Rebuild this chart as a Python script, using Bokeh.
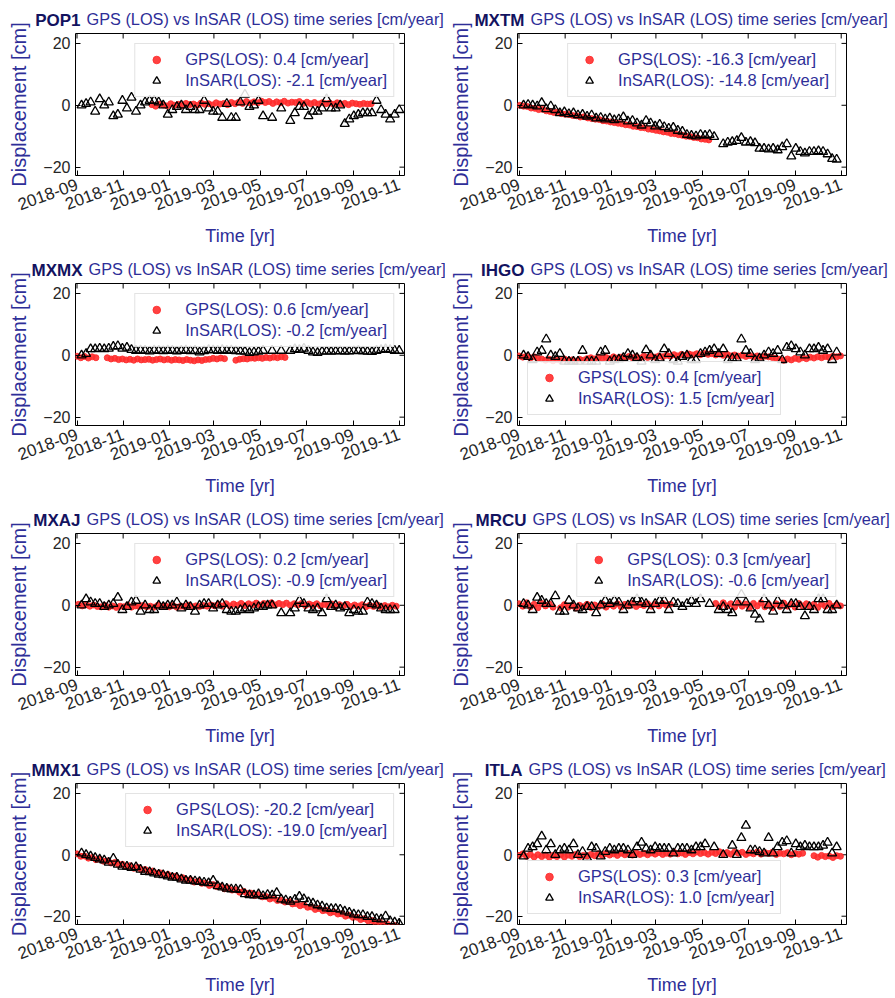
from datetime import datetime, timedelta
from bokeh.plotting import figure
from bokeh.layouts import column, row
from bokeh.models import (FixedTicker, DatetimeTickFormatter, Title, Range1d, Legend, LegendItem)
from bokeh.embed import file_html
from bokeh.resources import INLINE

# ---------------- data ----------------
STATIONS = ["POP1", "MXTM", "MXMX", "IHGO", "MXAJ", "MRCU", "MMX1", "ITLA"]
GPS_RATES = [0.4, -16.3, 0.6, 0.4, 0.2, 0.3, -20.2, 0.3]
INSAR_RATES = [-2.1, -14.8, -0.2, 1.5, -0.9, -0.6, -19.0, 1.0]
TITLE_REST = "GPS (LOS) vs InSAR (LOS) time series [cm/year]"
X_TICKS = ["2018-09-01", "2018-11-01", "2019-01-01", "2019-03-01",
           "2019-05-01", "2019-07-01", "2019-09-01", "2019-11-01"]
Y_TICKS = [-20, 0, 20]

INSAR_START = "2018-09-07"
INSAR_STEP_DAYS = 6
GPS_STEP_DAYS = 5
GPS_START = ["2018-12-09", "2018-09-02", "2018-09-01", "2018-09-01",
             "2018-09-03", "2018-09-01", "2018-09-01", "2018-09-01"]

POP1_INSAR = [0, 0.5, 1, -2, 2, 0, 1, -3.5, -3, 1.5, -1, 2.5, -2, 0, 1, 1.5, 1.5, 1, 0, -3,
              -1.5, -0.5, 0, -1.5, -0.5, -1.5, -1.5, 1.5, -1, -2, -2, -4, 0.5, -4, -4, 1, 3.5,
              -0.5, 0, 1.5, -3.5, None, -4, None, -1, None, -5, -2.5, -0.5, -0.5, -3.5, -2, -2,
              -1, 2, -1, -1, 0, -6, -4.5, -3.5, -3, -2.5, -2.5, -2.5, 1.5, -1.5, -3, -4.5, -3, -1.5]
POP1_GPS = [0.2, -0.3, 0.4, 0.1, -0.2, 0.5, 0.0, 0.3, -0.1, 0.6, 0.2, 0.4, 0.0, 0.7, 0.3, 0.5,
            0.1, 0.8, 0.4, 0.6, 0.2, 0.9, 0.5, 1.0, 0.6, 1.2, 0.7, 1.1, 0.8, 1.3, 0.9, 1.2, 0.6,
            1.1, 0.8, 1.3, 0.7, 1.0, 0.9, 1.2, 0.6, 1.0, 0.5, 0.9, 0.4, 0.8, 0.5, 0.7, 0.3, 0.8,
            0.4, 0.6, 0.2, 0.7, 0.5, 0.3, 0.6, 0.4, 0.5]

MXTM_INSAR = [0, 0.2, 0, -0.3, 0.8, -1.2, -0.3, -1.5, -2.5, -2.2, -2.8, -2.5, -3.2, -3.0, -3.6,
              -3.2, -4.2, -4.0, -4.5, -4.2, -4.8, -4.5, -3.8, -5.2, -5.0, -5.8, -6.5, -5.0, -5.8,
              -6.8, -6.2, -7.0, -7.5, -7.2, -8.2, -8.5, -9.5, -9.8, -10.0, -9.5, -9.8, -9.5,
              -10.2, None, -12.5, -12, -11.8, -11.5, -10.5, -12, -11.8, -12.2, -14, -14, -14.2,
              -14, -14.5, -13.5, -12.5, -16.5, -14, -15, -15.5, -15, -15, -14.8, -15, -15.8,
              -17.3, -17.5]
MXTM_GPS = [0, -0.3, -0.4, -0.9, -1.0, -1.4, -1.3, -1.8, -2.0, -2.3, -2.2, -2.7, -2.9, -3.0,
            -3.3, -3.4, -3.8, -3.7, -4.1, -4.3, -4.5, -4.6, -5.0, -5.1, -5.4, -5.6, -5.8, -6.0,
            -6.3, -6.4, -6.8, -6.9, -7.2, -7.3, -7.7, -7.8, -8.1, -8.3, -8.6, -8.7, -9.1, -9.2,
            -9.5, -9.7, -10.0, -10.1, -10.4, -10.5, -10.9, -11.0, -11.2]

MXMX_INSAR = [0, 0.5, 2, 2, 2.2, 2, 2.2, 2.8, 3, 2.2, 2.5, 1.8, 1.5, 1.6, 1.5, 1.3, 1.6, 1.5,
              1.4, 1.6, 1.5, 1.3, 1.5, 1.6, 1.4, 1.5, 1.0, 1.4, 1.8, 1.6, 1.5, 1.8, 1.5, 1.6,
              1.4, 1.3, 1.2, 0.8, 1.0, 1.2, 1.5, None, 1.5, None, 1.5, None, 1.5, 2.0, 1.8,
              2.2, 1.5, 1.0, 0.8, 1.2, 1.3, 1.2, 1.3, 1.4, 1.2, 1.3, 1.4, 1.5, 1.3, 1.2, 1.1,
              1.5, 1.8, 2.0, 1.8, 1.5, 1.5]
MXMX_GPS = [-0.3, -0.8, -0.4, -0.9, -0.5, -0.8, None, None,
            -0.8, -1.2, -1.0, -1.4, -1.2, -1.5, -1.3, -1.6, -1.2, -1.5, -1.4, -1.3, -1.6, -1.4,
            -1.2, -1.5, -1.3, -1.6, -1.4, -1.5, -1.7, -1.4, -1.6, -1.8, -1.5, -1.7, -1.4, -1.3,
            -1.0, -1.2, -0.9, -1.1, None, None,
            -1.6, -1.3, -1.1, -1.2, -0.9, -1.0, -0.8, -1.0, -0.7, -0.9, -0.6, -0.8, -0.5, -0.7]

IHGO_INSAR = [0, -0.5, -1.5, 1, 1.5, 5.2, 0, -0.5, 0.5, -2, -2, -2, -2, 1.5, -2, -2, -2, 1, 1.5,
              -2, -1.5, -1.3, -0.8, 0.5, 0, -0.8, -2, 1.7, 0, -1.5, -1, 2, 0.5, -1.5, -2, -0.5,
              0, -1.5, -1.5, 0.5, 1, 1.5, 2, 0.5, 2, -1.5, -1, -1, 5.2, 1.5, 0.5, -1.5, -1, 0,
              1, 0.5, 1.5, -1.5, 2.5, 3, 2, 1, 0, 2, 2, 2.5, 1.5, 2, -1.5, 1]
IHGO_GPS = [-0.2, -0.6, -0.3, -0.9, -0.5, -1.0,
            -1.2, -1.6, -1.3, -1.8, -1.4, -1.7, -1.2, -1.6, -1.5, -1.9, -1.3, -1.6, -1.1,
            -0.8, -1.2, -0.6, -1.0, -0.7, -1.1, -0.5, -0.9, -0.6, -1.0, -0.4, -0.8, -0.5, -0.9,
            -0.3, -0.7, -0.4, -0.6, -0.2, -0.5, 0.0, -0.3, 0.2, -0.2, 0.3, 0.0, 0.4, 0.1, 0.5,
            0.2, 0.6, 0.3, 0.5, 0.1, 0.4, 0.0, 0.3, -0.2, 0.1, -0.3, 0.0, -0.4, -0.1, -0.5,
            -0.2, -0.6, -0.3, -0.5,
            -0.7, -1.0, -1.3, -1.6, -1.2, -1.5, -1.0, -1.3, -0.8, -1.1, -0.6,
            -0.9, -0.5, -0.8, -0.4, -0.7, -0.3, -0.5, -0.2]

MXAJ_INSAR = [0, 2, 1, 0.5, 0.5, -0.5, 0, 0.5, 2.5, -1.5, -0.5, 1, 1.5, -2, 0, -1.5, -1.5, 0,
              -0.5, 0, 0, 1, -1, 0, -0.5, -2, 0, 0.5, 0.5, -1, 0, 0.5, -1.5, -2, -2, -1.5, -1,
              -1.5, -1, -0.5, -0.5, 0, 0, None, -2.5, None, -2.5, -1, 1.5, 0.5, -1, -1.5, -1,
              -2.5, 2, -0.5, 0, -1, -0.5, -2.5, -1.5, -2, -2, 1, 0.5, 0, -1, -1.5, -1.5, -1.5]
MXAJ_GPS = [0.3, -0.2, 0.2, -0.3, 0.1, -0.4,
            -0.5, -0.1, -0.6, -0.2, -0.7, -0.3, -0.5, 0.0, -0.6, -0.2, -0.4, -0.1, -0.5, -0.3,
            -0.6, 0.0, -0.4, -0.2, -0.5, -0.1, -0.6, -0.3, -0.4, 0.0, -0.5, -0.2, -0.4, -0.1,
            -0.3, 0.1, -0.2,
            0.3, -0.3, 0.5, -0.2, 0.4, 0.0, 0.6, -0.1, 0.5, 0.1, 0.7, 0.0, 0.6, 0.2, 0.8, 0.1,
            0.6, 0.2, 0.7, 0.0, 0.5, 0.1, 0.6, -0.1, 0.4, 0.0, 0.5, -0.2, 0.3, -0.1, 0.4, -0.3,
            0.2, -0.2, 0.3, -0.4, 0.1, -0.3, 0.2, -0.5, 0.0, -0.4, 0.1, -0.6, -0.1, -0.5, 0.0,
            -0.3]

MRCU_INSAR = [0.5, 0, -1.5, 2.5, 1.5, 0.5, 0.5, 3, -2, -2, 1.5, 0, -1, -1.5, -0.5, -0.5,
              -2.5, 0, 1.5, 0.5, 1.5, 1, -1.5, 0, 1, 2, 1, 0.5, -1.5, 0.5, 1.5, 1.5, -1.5, 1,
              0.5, -0.5, 0.5, 1.5, 0.5, 2, None, 0.5, None, -1.5, -0.5, -1.5, -2.5, 1, 3.5, 1,
              -1, -3, -4.5, 2, 0, -2, 1.5, 0, -1.5, 0.5, 0.5, -0.5, -3.5, -0.5, -1.5, 2, 2,
              -1.5, -1.5, 0]
MRCU_GPS = [0.5, -0.3, 0.8, -0.5, 0.3, -0.8, 0.6, -0.2, 0.4, -0.6, None,
            -0.8, 0.2, -0.6, -0.1, -0.9, 0.0, -0.5, 0.3, -0.7, 0.1, -0.4, 0.4, -0.6, 0.2, -0.3,
            0.5, -0.5, 0.3, -0.2, 0.6, -0.4, 0.2, -0.1, 0.5, -0.3, 0.4, -0.2, 0.6, 0.0, 0.3,
            None, None, None, None, None, None, None, None, None, None, None,
            0.6, -0.4, 0.8, -0.2, 0.5, -0.6, 0.7, -0.3, 0.4, -0.7, 0.6, -0.2, 0.8, -0.5, 0.3,
            -0.8, 0.5, -0.4, 0.7, -0.3, 0.4, -0.6, 0.6, -0.2, 0.5, -0.5, 0.3, -0.7, 0.4, -0.3,
            0.6, -0.4, 0.2, -0.2]

MMX1_INSAR = [0.5, 0, -0.5, -1, -1.5, -1.8, -2.5, -1.2, -3.2, -3.8, -3.8, -4.2, -4.0, -4.8,
              -5.5, -5.6, -6, -6.4, -6.6, -7, -7.4, -7.4, -8, -8.4, -8.4, -8.6, -8.8, -9, -9.2,
              -8.4, -10.2, -10.6, -11, -11.2, -11.2, -11.4, -12.8, -13.1, -13.2, -12.8, -13.4,
              -13, -13.2, -12.4, -14.5, -14.8, -15.2, -14.6, -13.6, -14.4, -15.4, -15.8, -16.4,
              -16.8, -17.4, -17.6, -17.6, -17.8, -18.4, -18.8, -19.4, -19.6, -19.6, -20.2,
              -20.2, -20.8, -21.0, -20.0, -21.6, -22, -22.4]
MMX1_GPS = [0.3, -0.5, -0.4, -1.1, -0.9, -1.6, -1.4, -2.1, -2.0, -2.7, -2.5, -3.2, -3.1, -3.8,
            -3.6, -4.4, -4.1, -4.9, -4.8, -5.4, -5.3, -6.0, -5.9, -6.6, -6.4, -7.1, -7.0, -7.7,
            -7.5, -8.2, -8.1, -8.9, -8.6, -9.3, -9.2, -10.0, -9.7, -10.4, -10.3, -11.1, -10.8,
            -11.5, -11.4, -12.2, -11.9, -12.6, -12.5, -13.3, -13.0, -13.7, -13.6, -14.4, -14.1,
            -14.9, -14.8, -15.4, -15.2, -16.0, -15.9, -16.6, -16.3, -17.1, -17.0, -17.8,
            -17.5, -18.2, -18.1, -18.9, -18.6, -19.3, -19.2, -20.0, -19.7, -20.4, -20.3,
            -21.1, -20.8, -21.5, -21.4, -22.2, -21.9, -22.6, -22.5, -23.2, -23.0, -23.7]

ITLA_INSAR = [-0.5, 2, 2.5, 3.5, 6, 1.5, 3.5, 0, 1.5, 2, 1.5, 3.5, 0, 1, -1, 2.5, 2, -0.5, 1,
              2, 1.5, 2, 2, 1.5, 0, 2.5, 4, 2, 1.5, 2.5, 2, 2, 2, 0.5, 2, 2, 2, 1.5, 2.5, 2.5,
              3.5, None, 2.5, None, 0, None, 3, 0, 5.5, 9.5, 1.5, 1.5, 1, 0.5, 5.5, 0.5, 2.5,
              4, 4.5, 0.5, 3.5, 2.5, 3, 2.5, 2.5, 2.5, 3, 4, 0.5, 2.5]
ITLA_GPS = [-0.2, 0.3, -0.5, 0.1, -0.7, 0.0, -0.6, -0.1, -0.8, -0.2, -0.6, 0.0, -0.7, -0.1,
            -0.5, 0.1, -0.6, -0.2, -0.4, 0.1,
            -0.3, 0.3, -0.2, 0.4, -0.1, 0.3, -0.2, 0.5, 0.0, 0.4, -0.1, 0.6, 0.1, 0.5, 0.0,
            0.6, 0.2, 0.7, 0.1, 0.5, 0.2, 0.8, 0.3, 0.6, 0.1, 0.7, 0.3, 0.9, 0.4, 0.7,
            0.2, 0.8, 0.4, 1.0, 0.3, 0.7, 0.2, 0.9, 0.5, 0.8, 0.1, 0.6, 0.3, 0.9, 0.2, 0.7,
            0.4, 0.8, 0.1, 0.5, 0.3, 0.7, 0.0, 0.4, 0.2, 0.5,
            None, None,
            -0.3, -0.8, -0.2, -0.6, -0.4, -0.9, -0.3, -0.5]

INSAR_SERIES = [POP1_INSAR, MXTM_INSAR, MXMX_INSAR, IHGO_INSAR,
                MXAJ_INSAR, MRCU_INSAR, MMX1_INSAR, ITLA_INSAR]
GPS_SERIES = [POP1_GPS, MXTM_GPS, MXMX_GPS, IHGO_GPS,
              MXAJ_GPS, MRCU_GPS, MMX1_GPS, ITLA_GPS]

# ---------------- style / layout ----------------
X_START, X_END = datetime(2018, 8, 30), datetime(2019, 11, 8)
Y_START, Y_END = -22.7, 23.2
LEGEND_LOC = ["top_right", "top_right", "top_right", "bottom_left",
              "top_right", "top_right", "top_right", "bottom_left"]
TITLE_SPLIT_PX = [11, 13, 13, 13, 11, 15, 11, 11]
FONT = "Liberation Sans"
NAVY = "#13135f"
BLUE = "#2e2e98"
TICK = "#262626"
RED = "#ff2e2e"
FRAME_W, FRAME_H = 329, 142
TOP = 33
TICK_LEN = 5


def dates(start, step, n):
    d0 = datetime.strptime(start, "%Y-%m-%d")
    return [d0 + timedelta(days=step * k) for k in range(n)]


def keep(xs, ys):
    pairs = [(x, y) for x, y in zip(xs, ys) if y is not None]
    return [p[0] for p in pairs], [p[1] for p in pairs]


EPOCH = datetime(1970, 1, 1)
xticks_ms = [(datetime.strptime(t, "%Y-%m-%d") - EPOCH).total_seconds() * 1000 for t in X_TICKS]
x0_ms = (X_START - EPOCH).total_seconds() * 1000
x1_ms = (X_END - EPOCH).total_seconds() * 1000
fmt = dict(days="%Y-%m", months="%Y-%m", years="%Y-%m")


def panel(i, col, last):
    w = 445 if col == 0 else 450
    h = 248 if last else 250
    bl = 75 if col == 0 else 72
    p = figure(width=w, height=h, x_axis_type="datetime",
               x_range=Range1d(X_START, X_END), y_range=Range1d(Y_START, Y_END),
               output_backend="svg", toolbar_location=None,
               min_border_left=bl, min_border_right=w - bl - FRAME_W,
               min_border_top=TOP, min_border_bottom=h - TOP - FRAME_H)
    p.xgrid.visible = False
    p.ygrid.visible = False
    p.outline_line_color = "black"
    p.outline_line_width = 1
    p.background_fill_color = "white"
    p.border_fill_color = "white"

    xa = p.xaxis[0]
    xa.ticker = FixedTicker(ticks=xticks_ms)
    xa.formatter = DatetimeTickFormatter(**fmt)
    xa.major_label_orientation = 0.35
    xa.axis_label = "Time [yr]"
    ya = p.yaxis[0]
    ya.ticker = FixedTicker(ticks=Y_TICKS)
    ya.major_label_overrides = {-20: "\u221220"}
    ya.axis_label = "Displacement [cm]"
    for ax in (xa, ya):
        ax.axis_line_color = None
        ax.major_tick_in = TICK_LEN
        ax.major_tick_out = 0
        ax.minor_tick_in = 0
        ax.minor_tick_out = 0
        ax.major_tick_line_color = "black"
        ax.major_label_text_font = FONT
        ax.major_label_text_color = TICK
        ax.axis_label_text_font = FONT
        ax.axis_label_text_font_style = "normal"
        ax.axis_label_text_color = BLUE
    xa.major_label_text_font_size = "17px"
    ya.major_label_text_font_size = "16px"
    xa.axis_label_text_font_size = "18px"
    ya.axis_label_text_font_size = "20px"
    xa.major_label_standoff = 8
    xa.axis_label_standoff = 7
    ya.major_label_standoff = 5
    ya.axis_label_standoff = 10

    # mirrored inward ticks on the top and right edges of the box
    dy = TICK_LEN * (Y_END - Y_START) / FRAME_H
    dx = TICK_LEN * (x1_ms - x0_ms) / FRAME_W
    p.segment(x0=xticks_ms, y0=[Y_END] * len(xticks_ms), x1=xticks_ms,
              y1=[Y_END - dy] * len(xticks_ms), line_color="black", line_width=1)
    p.segment(x0=[x1_ms] * len(Y_TICKS), y0=Y_TICKS, x1=[x1_ms - dx] * len(Y_TICKS),
              y1=Y_TICKS, line_color="black", line_width=1)

    gx, gy = keep(dates(GPS_START[i], GPS_STEP_DAYS, len(GPS_SERIES[i])), GPS_SERIES[i])
    ix, iy = keep(dates(INSAR_START, INSAR_STEP_DAYS, len(INSAR_SERIES[i])), INSAR_SERIES[i])
    r1 = p.scatter(gx, gy, marker="circle", size=6, fill_color=RED, line_color=RED,
                   fill_alpha=0.9, line_alpha=0.9)
    r2 = p.scatter(ix, iy, marker="triangle", size=9, fill_color=None, line_color="black",
                   line_width=1.3)

    leg = Legend(items=[LegendItem(label=f"GPS(LOS): {GPS_RATES[i]:.1f} [cm/year]", renderers=[r1]),
                        LegendItem(label=f"InSAR(LOS): {INSAR_RATES[i]:.1f} [cm/year]", renderers=[r2])],
                 location=LEGEND_LOC[i], margin=10, padding=6, spacing=2,
                 glyph_width=30, glyph_height=19, label_standoff=14, label_height=19,
                 label_text_font=FONT, label_text_font_size="16.5px", label_text_color=BLUE,
                 border_line_color="#c8c8c8", border_line_width=1,
                 background_fill_color="white", background_fill_alpha=0.85)
    p.add_layout(leg)

    # two-style title: normal part (inner row) and bold station name pulled onto the same line
    split = TITLE_SPLIT_PX[i]
    p.add_layout(Title(text=TITLE_REST, align="left", offset=split, standoff=11,
                       text_font=FONT, text_font_size="16.3px", text_font_style="normal",
                       text_color=BLUE), "above")
    p.add_layout(Title(text=STATIONS[i], align="right", offset=FRAME_W - (split - 6),
                       standoff=-54, text_font=FONT, text_font_size="17px",
                       text_font_style="bold", text_color=NAVY), "above")
    return p


rows = []
for r in range(4):
    rows.append(row(panel(2 * r, 0, r == 3), panel(2 * r + 1, 1, r == 3)))
layout = column(*rows)

with open("out.html", "w") as f:
    f.write(file_html(layout, INLINE))
